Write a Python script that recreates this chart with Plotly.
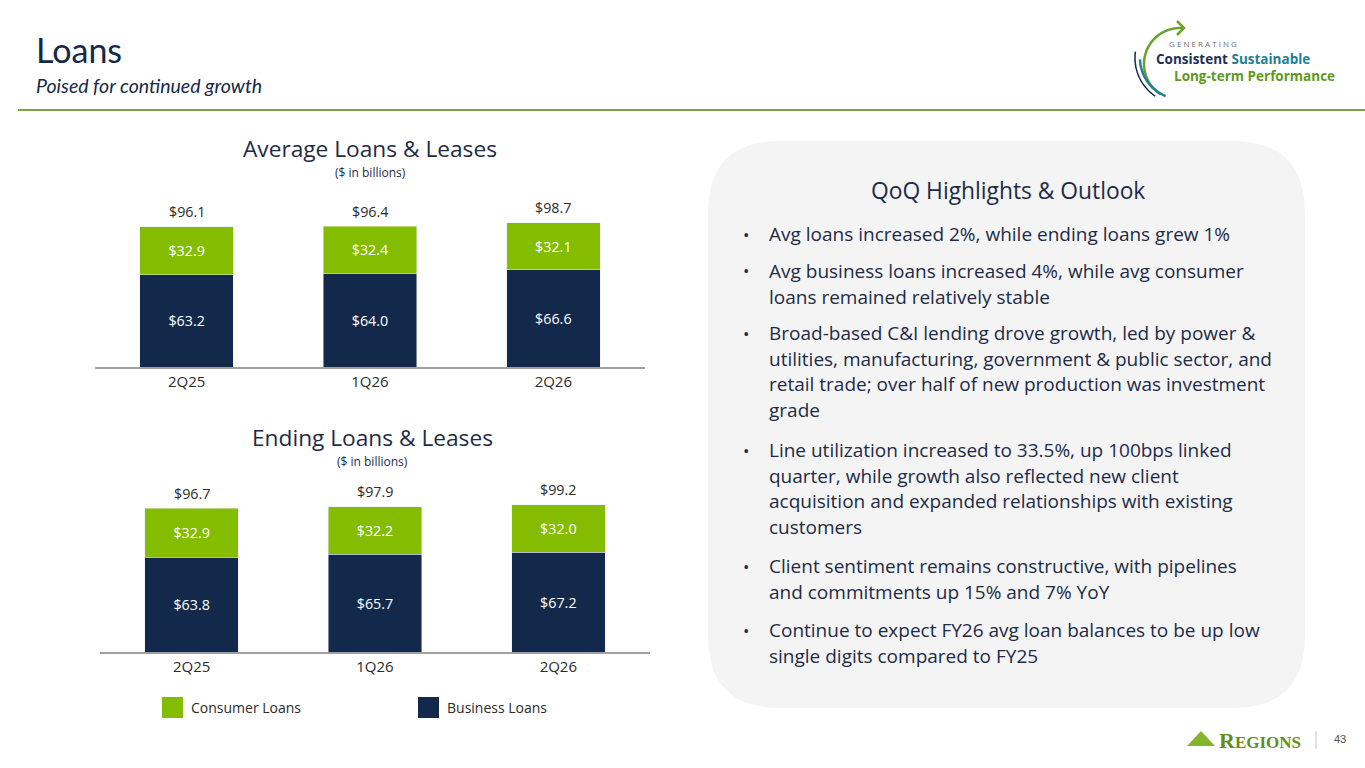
import numpy as np
import plotly.graph_objects as go

W, H = 1365, 768

# data
quarters = ["2Q25", "1Q26", "2Q26"]
avg_business = [63.2, 64.0, 66.6]
avg_consumer = [32.9, 32.4, 32.1]
avg_total = [96.1, 96.4, 98.7]
end_business = [63.8, 65.7, 67.2]
end_consumer = [32.9, 32.2, 32.0]
end_total = [96.7, 97.9, 99.2]

bullets = [
    ["Avg loans increased 2%, while ending loans grew 1%"],
    ["Avg business loans increased 4%, while avg consumer",
     "loans remained relatively stable"],
    ["Broad-based C&I lending drove growth, led by power &",
     "utilities, manufacturing, government & public sector, and",
     "retail trade; over half of new production was investment",
     "grade"],
    ["Line utilization increased to 33.5%, up 100bps linked",
     "quarter, while growth also reflected new client",
     "acquisition and expanded relationships with existing",
     "customers"],
    ["Client sentiment remains constructive, with pipelines",
     "and commitments up 15% and 7% YoY"],
    ["Continue to expect FY26 avg loan balances to be up low",
     "single digits compared to FY25"],
]
bullet_tops = [234, 271, 333, 450, 566, 630]

NAVY = "#13294b"
GREEN = "#84bd00"
TEXT = "#1d2b48"
HEAD = "Lato"
BODY = "Open Sans"


def px(x):
    return x / W


def py(y):
    return 1 - y / H


fig = go.Figure()
ann = []

# two stacked bar charts
for i, (bus, con, tot) in enumerate([(avg_business, avg_consumer, avg_total),
                                     (end_business, end_consumer, end_total)]):
    xa = "x" if i == 0 else "x2"
    ya = "y" if i == 0 else "y2"
    fig.add_trace(go.Bar(
        x=quarters, y=bus, xaxis=xa, yaxis=ya, name="Business Loans",
        marker_color=NAVY, width=0.51, texttemplate="$%{y:.1f}",
        textposition="inside", insidetextanchor="middle",
        textfont=dict(color="white", size=14.3, family=BODY),
        showlegend=False, hoverinfo="skip"))
    fig.add_trace(go.Bar(
        x=quarters, y=con, xaxis=xa, yaxis=ya, name="Consumer Loans",
        marker_color=GREEN, width=0.51, texttemplate="$%{y:.1f}",
        textposition="inside", insidetextanchor="middle",
        textfont=dict(color="white", size=14.3, family=BODY),
        showlegend=False, hoverinfo="skip"))
    # totals above each stack
    for q, v in zip(quarters, tot):
        ann.append(dict(x=q, y=v, xref=xa, yref=ya, text=f"${v:.1f}", yshift=15,
                        xanchor="center", yanchor="middle", showarrow=False,
                        font=dict(color="#2b2b2b", size=14.3, family=BODY)))

axis_common = dict(showgrid=False, zeroline=False, ticks="",
                   tickfont=dict(size=15, family=BODY, color="#2b2b2b"),
                   showline=True, linecolor="#a0a0a0", linewidth=1.5,
                   range=[-0.5, 2.5], fixedrange=True)
yaxis_common = dict(visible=False, showgrid=False, zeroline=False, fixedrange=True)

fig.update_layout(
    xaxis=dict(domain=[px(95), px(645)], anchor="y", **axis_common),
    yaxis=dict(domain=[py(367), py(200)], range=[0, 167 / 1.46], anchor="x",
               **yaxis_common),
    xaxis2=dict(domain=[px(100), px(650)], anchor="y2", **axis_common),
    yaxis2=dict(domain=[py(652), py(480)], range=[0, 172 / 1.485], anchor="x2",
                **yaxis_common),
)

shapes = []
paper_ann = []

# header
paper_ann.append(dict(x=px(34), y=py(50), text="Loans", xanchor="left", yanchor="middle",
                      font=dict(size=34, family=HEAD, color=NAVY)))
paper_ann.append(dict(x=px(34), y=py(86), text="<i>Poised for continued growth</i>",
                      xanchor="left", yanchor="middle",
                      font=dict(size=19.5, family=HEAD, color=NAVY)))
shapes.append(dict(type="line", xref="paper", yref="paper", x0=px(18), x1=1,
                   y0=py(110), y1=py(110), line=dict(color="#7ea23e", width=2)))

# chart titles
for cx, ty, title in [(370, 148, "Average Loans & Leases"),
                      (373, 437, "Ending Loans & Leases")]:
    paper_ann.append(dict(x=px(cx), y=py(ty), text=title, xanchor="center",
                          yanchor="middle", font=dict(size=22.7, family=BODY, color=TEXT)))
    paper_ann.append(dict(x=px(cx), y=py(ty + 24), text="($ in billions)", xanchor="center",
                          yanchor="middle", font=dict(size=12, family=BODY, color=TEXT)))

# legend
for sx, color, label in [(162, GREEN, "Consumer Loans"), (418, NAVY, "Business Loans")]:
    shapes.append(dict(type="rect", xref="paper", yref="paper", x0=px(sx), x1=px(sx + 21),
                       y0=py(718), y1=py(697), fillcolor=color, line_width=0))
    paper_ann.append(dict(x=px(sx + 27), y=py(707), text=label, xanchor="left",
                          yanchor="middle",
                          font=dict(size=14, family=BODY, color="#2b2b2b")))

# highlight panel with rounded corners
x0, x1, y0, y1, r = 708, 1305, 141, 708, 72
path = (f"M {px(x0 + r)},{py(y0)} L {px(x1 - r)},{py(y0)} "
        f"Q {px(x1)},{py(y0)} {px(x1)},{py(y0 + r)} "
        f"L {px(x1)},{py(y1 - r)} Q {px(x1)},{py(y1)} {px(x1 - r)},{py(y1)} "
        f"L {px(x0 + r)},{py(y1)} Q {px(x0)},{py(y1)} {px(x0)},{py(y1 - r)} "
        f"L {px(x0)},{py(y0 + r)} Q {px(x0)},{py(y0)} {px(x0 + r)},{py(y0)} Z")
shapes.append(dict(type="path", xref="paper", yref="paper", path=path,
                   fillcolor="#f4f4f4", line_width=0, layer="below"))

paper_ann.append(dict(x=px(1008), y=py(191), text="QoQ Highlights & Outlook",
                      xanchor="center", yanchor="middle",
                      font=dict(size=22.8, family=BODY, color=TEXT)))
for lines, top in zip(bullets, bullet_tops):
    paper_ann.append(dict(x=px(746), y=py(top), text="•", xanchor="center",
                          yanchor="middle", font=dict(size=17, family=BODY, color=TEXT)))
    for k, line in enumerate(lines):
        paper_ann.append(dict(x=px(767), y=py(top + k * 25.7), text=line, xanchor="left",
                              yanchor="middle",
                              font=dict(size=19, family=BODY, color=TEXT)))


# top-right logo
def arc(cx, cy, r, a0, a1, n=40):
    t = np.radians(np.linspace(a0, a1, n))
    pts = [f"{px(cx + r * np.cos(a))},{py(cy + r * np.sin(a))}" for a in t]
    return "M " + " L ".join(pts)


shapes.append(dict(type="path", xref="paper", yref="paper", path=arc(1180, 64, 36, -85, -238),
                   line=dict(color="#6aa32a", width=2.5)))
shapes.append(dict(type="path", xref="paper", yref="paper",
                   path=f"M {px(1177)},{py(21)} L {px(1184)},{py(28)} L {px(1177)},{py(35)}",
                   line=dict(color="#6aa32a", width=2.5)))
shapes.append(dict(type="path", xref="paper", yref="paper", path=arc(1181, 58, 41, 178, 112),
                   line=dict(color="#1f7f95", width=2.5)))
shapes.append(dict(type="path", xref="paper", yref="paper", path=arc(1181, 58, 46, 188, 124),
                   line=dict(color=NAVY, width=1.5)))
paper_ann.append(dict(x=px(1167), y=py(44), text="G E N E R A T I N G", xanchor="left",
                      yanchor="middle", font=dict(size=8, family=BODY, color="#6b6b6b")))
paper_ann.append(dict(x=px(1154), y=py(59),
                      text="<b><span style='color:#1c2f57'>Consistent</span> "
                           "<span style='color:#1f7f95'>Sustainable</span></b>",
                      xanchor="left", yanchor="middle", font=dict(size=13.5, family=BODY)))
paper_ann.append(dict(x=px(1172), y=py(76), text="<b>Long-term Performance</b>",
                      xanchor="left", yanchor="middle",
                      font=dict(size=13.5, family=BODY, color="#5c9a1e")))

# bottom-right logo
shapes.append(dict(type="path", xref="paper", yref="paper",
                   path=f"M {px(1187)},{py(746)} L {px(1201)},{py(731)} L {px(1215)},{py(746)} Z",
                   fillcolor="#84b42c", line_width=0))
paper_ann.append(dict(x=px(1217), y=py(740),
                      text="<b>R<span style='font-size:17px'>EGIONS</span></b>",
                      xanchor="left", yanchor="middle",
                      font=dict(size=22, family="Liberation Serif", color="#5f8f22")))
shapes.append(dict(type="line", xref="paper", yref="paper", x0=px(1316), x1=px(1316),
                   y0=py(731), y1=py(749), line=dict(color="#c8c8c8", width=1)))
paper_ann.append(dict(x=px(1340), y=py(739), text="43", xanchor="center", yanchor="middle",
                      font=dict(size=11, family="Liberation Sans", color="#555555")))

for a in paper_ann:
    a.update(xref="paper", yref="paper", showarrow=False)

fig.update_layout(
    width=W, height=H, margin=dict(l=0, r=0, t=0, b=0),
    paper_bgcolor="white", plot_bgcolor="rgba(0,0,0,0)",
    barmode="stack", bargap=0.5, showlegend=False,
    shapes=shapes, annotations=ann + paper_ann,
    font=dict(family=BODY),
)

fig.write_html("out.html", config={"displayModeBar": False},
               post_script="document.body.style.margin='0';")
